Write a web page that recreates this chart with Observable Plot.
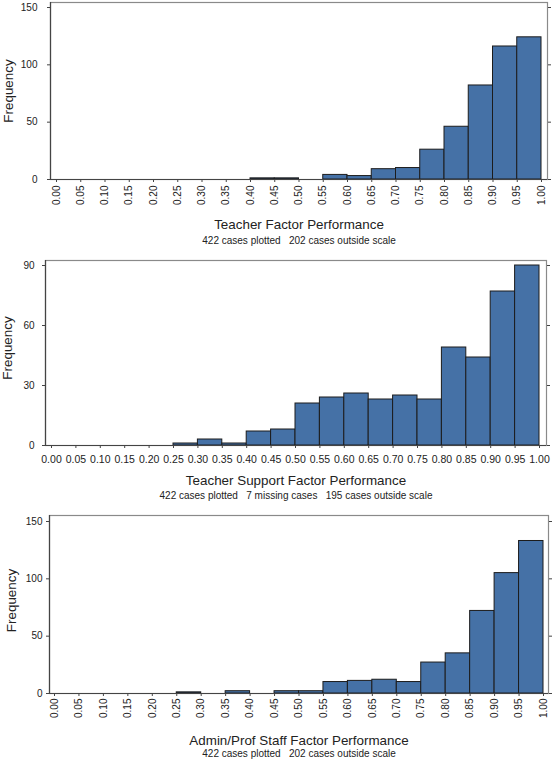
<!DOCTYPE html>
<html>
<head>
<meta charset="utf-8">
<script src="https://cdn.jsdelivr.net/npm/d3@7"></script>
<script src="https://cdn.jsdelivr.net/npm/@observablehq/plot@0.6"></script>
<style>
  html, body { margin: 0; padding: 0; background: #fff; }
  #chart svg { display: block; }
  #chart svg text { white-space: pre; }
</style>
</head>
<body>
<div id="chart"></div>
<script>
// ---- data ----
const tickLabels = ["0.00","0.05","0.10","0.15","0.20","0.25","0.30","0.35","0.40","0.45",
                    "0.50","0.55","0.60","0.65","0.70","0.75","0.80","0.85","0.90","0.95","1.00"];

const teacherCounts = [0,0,0,0,0,0,0,0,1,1,0,4,3,9,10,26,46,82,116,124];
const supportCounts = [0,0,0,0,0,1,3,1,7,8,21,24,26,23,25,23,49,44,77,90];
const adminCounts   = [0,0,0,0,0,1,0,2,0,2,2,10,11,12,10,27,35,72,105,133];

const yTicksTeacher = [0,50,100,150];
const yTicksSupport = [0,30,60,90];
const yTicksAdmin   = [0,50,100,150];

const titles = ["Teacher Factor Performance",
                "Teacher Support Factor Performance",
                "Admin/Prof Staff Factor Performance"];
const captions = ["422 cases plotted   202 cases outside scale",
                  "422 cases plotted   7 missing cases   195 cases outside scale",
                  "422 cases plotted   202 cases outside scale"];
const yLabel = "Frequency";

// ---- helpers ----
const xTicks = tickLabels.map(Number);
const labelOf = new Map(xTicks.map((v, i) => [v, tickLabels[i]]));
const FONT = "'Liberation Sans', Arial, Helvetica, sans-serif";
const BAR_FILL = "#4571a6";
const BAR_STROKE = "#1c1c1c";
const AXIS = "#444";
const FRAME = "#8a8a8a";
const TEXT = "#222";

function bins(counts) {
  return counts.map((c, i) => ({x1: xTicks[i], x2: xTicks[i + 1], count: c}))
               .filter(d => d.count > 0);
}

function panel(o) {
  return Plot.plot({
    width: 553,
    height: o.height,
    marginTop: o.mt, marginBottom: o.mb, marginLeft: o.ml, marginRight: o.mr,
    style: {fontFamily: FONT, fontSize: "10px", color: TEXT, background: "white", overflow: "visible"},
    x: {domain: [0, 1], insetLeft: o.il, insetRight: o.ir, axis: null, label: null},
    y: {domain: [0, o.yTicks[o.yTicks.length - 1]], insetTop: o.it, axis: null, label: null},
    marks: [
      Plot.frame({stroke: FRAME, strokeWidth: 1.2}),
      Plot.rectY(bins(o.counts), {x1: "x1", x2: "x2", y: "count", fill: BAR_FILL, stroke: BAR_STROKE, strokeWidth: 1}),
      Plot.ruleX([0], {dx: -o.il, stroke: AXIS, strokeWidth: 1.2}),
      Plot.ruleY([0], {stroke: AXIS, strokeWidth: 1.2}),
      Plot.axisY({ticks: o.yTicks, anchor: "left", tickSize: 3, tickPadding: o.ytp,
                  stroke: AXIS, fill: TEXT, fontSize: 10, label: null}),
      Plot.axisY({ticks: o.yTicks, anchor: "right", tickSize: 3, tickFormat: () => "",
                  stroke: AXIS, label: null}),
      Plot.axisX({ticks: xTicks, anchor: "bottom", tickSize: 3, tickPadding: o.xtp,
                  tickRotate: o.rotate, tickFormat: d => labelOf.get(d),
                  stroke: AXIS, fill: TEXT, fontSize: o.xfs, label: null}),
      Plot.text([o.title], {frameAnchor: "bottom", lineAnchor: "middle", textAnchor: "middle",
                            dy: o.titleDy, fontSize: 13.4, fill: TEXT, text: d => d}),
      Plot.text([o.caption], {frameAnchor: "bottom", lineAnchor: "middle", textAnchor: "middle",
                              dy: o.capDy, fontSize: 10, fill: TEXT, text: d => d}),
      Plot.text([yLabel], {frameAnchor: "left", lineAnchor: "middle", textAnchor: "middle", rotate: -90,
                           dx: o.ylDx, dy: o.ylDy, fontSize: 13.4, fill: TEXT, text: d => d})
    ]
  });
}

const chart = document.getElementById("chart");
chart.append(panel({
  counts: teacherCounts, yTicks: yTicksTeacher, title: titles[0], caption: captions[0],
  height: 250, mt: 2, mb: 71, ml: 50, mr: 6, il: 6, ir: 6, it: 5,
  ytp: 10, xtp: 3, rotate: -90, xfs: 10, titleDy: 45.5, capDy: 61, ylDx: -42, ylDy: 0
}));
chart.append(panel({
  counts: supportCounts, yTicks: yTicksSupport, title: titles[1], caption: captions[1],
  height: 255, mt: 10, mb: 60, ml: 45, mr: 7, il: 6, ir: 7, it: 5,
  ytp: 8, xtp: 7, rotate: 0, xfs: 10.5, titleDy: 35, capDy: 50.5, ylDx: -37.5, ylDy: -5
}));
chart.append(panel({
  counts: adminCounts, yTicks: yTicksAdmin, title: titles[2], caption: captions[2],
  height: 255, mt: 10, mb: 67, ml: 49, mr: 5, il: 5, ir: 5, it: 6,
  ytp: 4, xtp: 2, rotate: -90, xfs: 10, titleDy: 47.5, capDy: 60.5, ylDx: -38, ylDy: -4
}));
</script>
</body>
</html>
